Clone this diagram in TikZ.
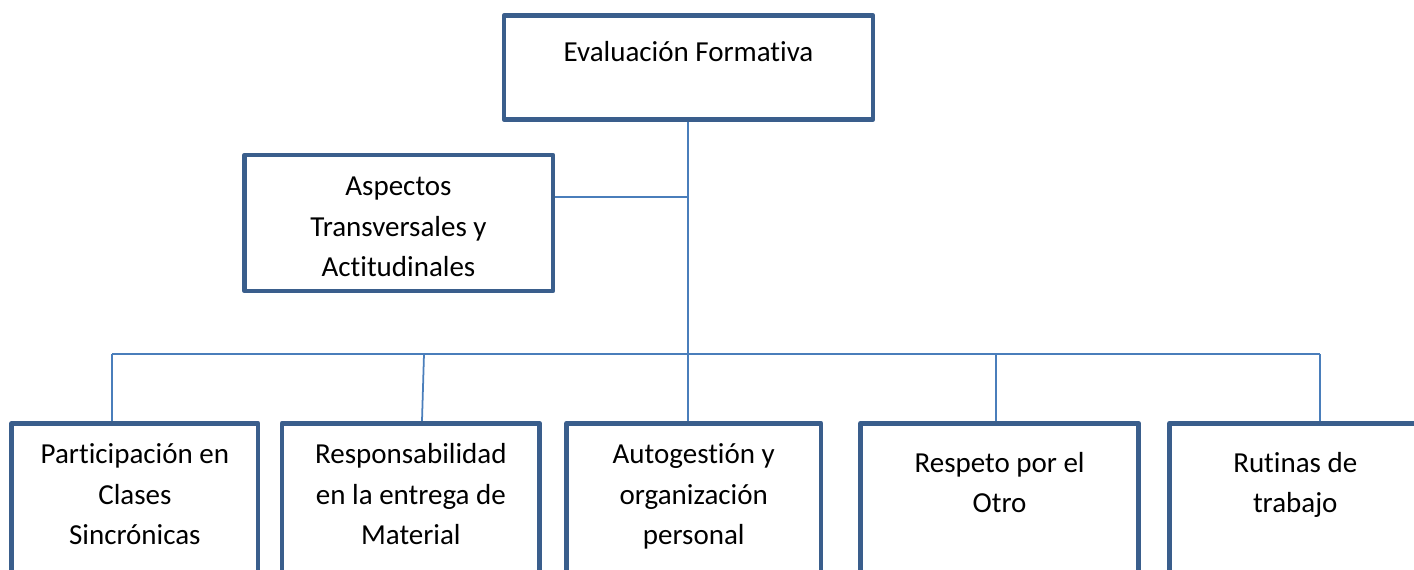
\documentclass[tikz,border=0pt]{standalone}
\usepackage{fontspec}
\setmainfont{Carlito}[Ligatures=CommonOff]
\definecolor{boxblue}{RGB}{58,94,140}
\definecolor{linkblue}{RGB}{74,126,187}

\begin{document}
\begin{tikzpicture}[
  x=0.02cm, y=-0.02cm,
  boxsty/.style={draw=boxblue, line width=2.7pt, line join=round, rectangle, inner sep=0pt},
  linksty/.style={draw=linkblue, line width=1pt},
  txtsty/.style={anchor=base, align=center, inner sep=0pt, font=\fontsize{16.5}{23.3}\selectfont}]

\useasboundingbox (0,0) rectangle (1414,570);
\clip (0,0) rectangle (1414,570);

% boxes
\node[boxsty, minimum width=369*0.02cm, minimum height=104*0.02cm] (ef) at (688.5,67.5) {};
\node[boxsty, minimum width=308.5*0.02cm, minimum height=136*0.02cm] (atr) at (398.75,223) {};

\node[boxsty, minimum width=246.3*0.02cm, minimum height=200*0.02cm] (b1) at (134.85,523.3) {};
\node[boxsty, minimum width=257.7*0.02cm, minimum height=200*0.02cm] (b2) at (410.85,523.3) {};
\node[boxsty, minimum width=254.5*0.02cm, minimum height=200*0.02cm] (b3) at (693.75,523.3) {};
\node[boxsty, minimum width=278.2*0.02cm, minimum height=200*0.02cm] (b4) at (999.6,523.3) {};
\node[boxsty, minimum width=251.5*0.02cm, minimum height=200*0.02cm] (b5) at (1295.25,523.3) {};

% texts (base = last line)
\node[txtsty] (tef) at (688.5,61.7) {Evaluación Formativa};
\node[txtsty] (tatr) at (398.5,277) {Aspectos\\Transversales y\\Actitudinales};
\node[txtsty] (tb1) at (134.85,545) {Participación en\\Clases\\Sincrónicas};
\node[txtsty] (tb2) at (410.85,545) {Responsabilidad\\en la entrega de\\Material};
\node[txtsty] (tb3) at (693.75,545) {Autogestión y\\organización\\personal};
\node[txtsty] (tb4) at (999.6,513) {Respeto por el\\Otro};
\node[txtsty] (tb5) at (1295.25,513) {Rutinas de\\trabajo};

% connectors
\coordinate (busL) at (112,354);
\coordinate (busR) at (1320,354);
\coordinate (d2) at (424,354);
\coordinate (d4) at (996,354);
\coordinate (side) at (688,197);

\draw[linksty] (busL) -- (busR);
\draw[linksty] ([xshift=-0.01cm]ef.south) -- ([xshift=-0.01cm]ef.south |- b3.north);
\draw[linksty] (side) -- (side -| atr.east);
\draw[linksty] (busL) -- (busL |- b1.north);
\draw[linksty] (d2) -- ([xshift=-0.04cm]d2 |- b2.north);
\draw[linksty] (d4) -- (d4 |- b4.north);
\draw[linksty] (busR) -- (busR |- b5.north);

\end{tikzpicture}
\end{document}
